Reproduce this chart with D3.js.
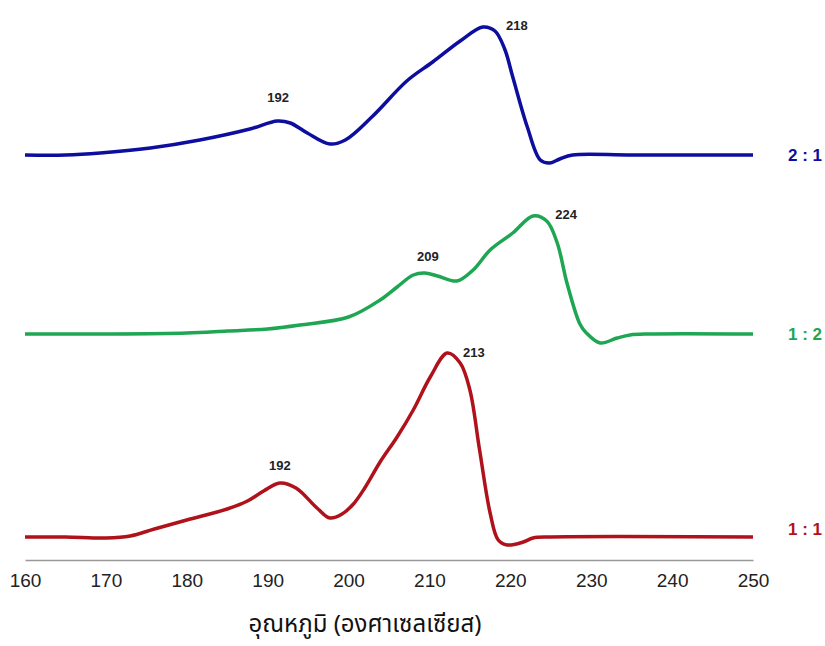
<!DOCTYPE html>
<html>
<head>
<meta charset="utf-8">
<script src="https://cdn.jsdelivr.net/npm/d3@7"></script>
<style>
  body { margin: 0; background: #fff; }
  svg { display: block; }
  text { font-family: "Liberation Sans", Arial, sans-serif; }
</style>
</head>
<body>
<div id="chart"></div>
<script>
// x axis
const xTicks = [160, 170, 180, 190, 200, 210, 220, 230, 240, 250];
const xLabel = "อุณหภูมิ (องศาเซลเซียส)";

// series names (ratio) and their vertical offsets in the stacked plot
const seriesNames = ["2 : 1", "1 : 2", "1 : 1"];
const seriesOffsets = [405, 226, 23];

// 2 : 1 (blue)
const blueTemps  = [160, 165, 169.3, 175.5, 181.6, 187.8, 191.2, 192.8, 194.9, 197.7, 199.6, 203, 207.2, 210.4, 213.8, 216.6, 218.1, 219.3, 220.3, 222.1, 223.7, 224.9, 226.1, 227.7, 235, 250];
const blueValues = [0, 0, 2, 7, 15, 26, 34, 32, 22, 11, 15, 39, 74, 93, 114, 128, 124, 106, 78, 28, -5, -8, -4, 0, 0, 0];

// 1 : 2 (green)
const greenTemps  = [160, 170, 180, 185, 190, 194, 200, 203.9, 206, 208, 209.4, 211, 213.4, 215.4, 217.5, 220.3, 222.8, 224.5, 225.8, 227, 228.6, 229.4, 231.1, 233.2, 234.8, 237, 250];
const greenValues = [0, 0, 1, 3, 5, 9, 17, 34, 47, 59, 61, 58, 53, 64, 84, 101, 118, 113, 91, 51, 10, 1, -9, -4, -1, 0, 0];

// 1 : 1 (red)
const redTemps  = [160, 165, 170, 173, 176, 180, 185, 187.5, 189.5, 191.5, 193.5, 196.1, 197.7, 199.2, 200.6, 202, 203.9, 206, 208, 210.1, 212.2, 213.8, 215, 216.2, 217.5, 218.5, 219.6, 221.6, 222.8, 225, 250];
const redValues = [0, 0, -1, 1, 8, 17, 28, 36, 46, 54, 49, 29, 19, 23, 33, 49, 75, 100, 127, 160, 184, 174, 147, 87, 24, -3, -8, -5, -1, 0, 0];

// peak labels: text, temperature and signal where the label sits
const blueLabels  = [["192", 191.3, 58], ["218", 220.8, 130]];
const greenLabels = [["209", 209.8, 78], ["224", 226.9, 120]];
const redLabels   = [["192", 191.5, 72], ["213", 215.5, 185]];

const colors = ["#0d0d9e", "#1ea653", "#b0121b"];

const width = 825, height = 646;

const svg = d3.select("#chart").append("svg")
  .attr("width", width)
  .attr("height", height);

const x = d3.scaleLinear().domain([160, 250]).range([25, 753]);
const y = d3.scaleLinear().domain([0, 535]).range([560, 25]);

const series = [
  { temps: blueTemps, values: blueValues, labels: blueLabels },
  { temps: greenTemps, values: greenValues, labels: greenLabels },
  { temps: redTemps, values: redValues, labels: redLabels },
];

// x axis (line only, no ticks)
const xAxis = svg.append("g")
  .attr("transform", `translate(0, ${y(0)})`)
  .call(d3.axisBottom(x).tickValues(xTicks).tickSize(0).tickPadding(14));
xAxis.select(".domain").attr("stroke", "#999").attr("stroke-width", 1.5);
xAxis.selectAll(".tick text")
  .attr("font-size", 19)
  .attr("fill", "#222")
  .style("font-family", "'Liberation Sans', Arial, sans-serif");

svg.append("text")
  .attr("x", 365)
  .attr("y", 632)
  .attr("text-anchor", "middle")
  .attr("font-size", 24)
  .attr("fill", "#111")
  .style("font-family", "'Noto Sans Thai', 'Tlwg Typo', Garuda, 'Noto Sans', sans-serif")
  .text(xLabel);

series.forEach((s, i) => {
  const off = seriesOffsets[i];
  const pts = s.temps.map((t, j) => [t, s.values[j]]);

  const line = d3.line()
    .x(d => x(d[0]))
    .y(d => y(off + d[1]))
    .curve(d3.curveCatmullRom.alpha(0.5));

  svg.append("path")
    .datum(pts)
    .attr("d", line)
    .attr("fill", "none")
    .attr("stroke", colors[i])
    .attr("stroke-width", 3.5)
    .attr("stroke-linejoin", "round")
    .attr("stroke-linecap", "butt");

  svg.selectAll(null)
    .data(s.labels)
    .enter()
    .append("text")
      .attr("x", d => x(d[1]))
      .attr("y", d => y(off + d[2]))
      .attr("dy", "0.35em")
      .attr("text-anchor", "middle")
      .attr("font-size", 13)
      .attr("font-weight", "bold")
      .attr("fill", "#222")
      .text(d => d[0]);

  svg.append("text")
    .attr("x", 822)
    .attr("y", y(off) - (i === 2 ? 8 : 0))
    .attr("dy", "0.35em")
    .attr("text-anchor", "end")
    .attr("font-size", 17)
    .attr("font-weight", "bold")
    .attr("fill", colors[i])
    .text(seriesNames[i]);
});
</script>
</body>
</html>
